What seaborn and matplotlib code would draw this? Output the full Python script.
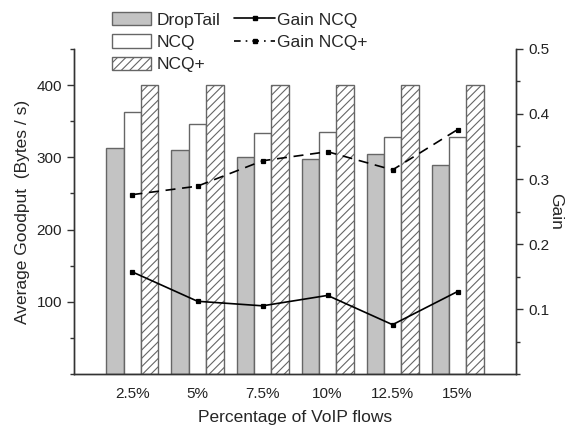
import numpy as np
import pandas as pd
import matplotlib
matplotlib.use("Agg")
import matplotlib.pyplot as plt
from matplotlib.patches import Patch
from matplotlib.lines import Line2D
from matplotlib.ticker import MultipleLocator
import seaborn as sns

# Goodput per queue scheme and relative gains
categories = ["2.5%", "5%", "7.5%", "10%", "12.5%", "15%"]
droptail = [313, 310, 301, 298, 305, 290]
ncq = [363, 346, 334, 335, 328, 328]
ncq_plus = [400, 400, 400, 400, 400, 400]
gain_ncq = [0.157, 0.112, 0.105, 0.121, 0.076, 0.127]
gain_ncq_plus = [0.276, 0.289, 0.328, 0.342, 0.314, 0.376]
schemes = ["DropTail", "NCQ", "NCQ+"]

sns.set_theme(style="ticks")
plt.rcParams["font.family"] = ["Liberation Sans", "DejaVu Sans"]
plt.rcParams["hatch.color"] = "#777777"
plt.rcParams["hatch.linewidth"] = 0.8

bars = pd.DataFrame({
    "pct": categories * 3,
    "scheme": sum([[s] * len(categories) for s in schemes], []),
    "goodput": droptail + ncq + ncq_plus,
})
gains = pd.DataFrame({
    "pct": categories * 2,
    "series": ["Gain NCQ"] * len(categories) + ["Gain NCQ+"] * len(categories),
    "gain": gain_ncq + gain_ncq_plus,
})

fig = plt.figure(figsize=(5.69, 4.33), dpi=100)
ax = fig.add_axes([0.130, 0.136, 0.777, 0.751])

edge = "#666666"
fills = {"DropTail": "#c3c3c3", "NCQ": "white", "NCQ+": "white"}
sns.barplot(data=bars, x="pct", y="goodput", hue="scheme", order=categories,
            hue_order=schemes, palette=fills, edgecolor=edge, linewidth=1.0,
            width=0.8, legend=False, ax=ax, saturation=1)
for patch in ax.containers[2]:
    patch.set_hatch("////")

ax.set_xlim(-0.9, 5.9)
ax.set_ylim(0, 450)
ax.set_yticks([100, 200, 300, 400])
ax.yaxis.set_minor_locator(MultipleLocator(50))
ax.set_xlabel("Percentage of VoIP flows", fontsize=12.5, labelpad=7)
ax.set_ylabel("Average Goodput  (Bytes / s)", fontsize=12.5, labelpad=5)

ax2 = ax.twinx()
sns.pointplot(data=gains[gains.series == "Gain NCQ"], x="pct", y="gain",
              order=categories, color="black", markers="s", markersize=3,
              linestyles="-", linewidth=1.2, ax=ax2, errorbar=None)
sns.pointplot(data=gains[gains.series == "Gain NCQ+"], x="pct", y="gain",
              order=categories, color="black", markers="s", markersize=3,
              linestyles=(0, (6, 4)), linewidth=1.2, ax=ax2, errorbar=None)
ax2.set_xlim(-0.9, 5.9)
ax2.set_ylim(0, 0.5)
ax2.set_yticks([0.1, 0.2, 0.3, 0.4, 0.5])
ax2.yaxis.set_minor_locator(MultipleLocator(0.05))
ax2.set_ylabel("Gain", fontsize=12.5, rotation=270, labelpad=10)

for a in (ax, ax2):
    for s in a.spines.values():
        s.set_color("#333333")
        s.set_linewidth(1.0)
    a.tick_params(axis="both", which="major", direction="out", length=5,
                  width=1.0, color="#333333", labelsize=11, labelcolor="#222222")
    a.tick_params(axis="y", which="minor", direction="out", length=3,
                  width=1.0, color="#333333")
ax.spines["top"].set_visible(False)
ax2.spines["top"].set_visible(False)
ax.tick_params(axis="x", length=0, pad=9)

bar_handles = [
    Patch(facecolor="#c3c3c3", edgecolor=edge, label="DropTail"),
    Patch(facecolor="white", edgecolor=edge, label="NCQ"),
    Patch(facecolor="white", edgecolor=edge, hatch="////", label="NCQ+"),
]
line_handles = [
    Line2D([], [], color="black", lw=1.2, ls="-", marker="s", markersize=3,
           label="Gain NCQ"),
    Line2D([], [], color="black", lw=1.2, ls=(0, (4, 3, 1, 3)), marker="s",
           markersize=3, label="Gain NCQ+"),
]
leg_kw = dict(loc="upper left", frameon=False, fontsize=12.5,
              labelspacing=0.38, handleheight=0.8, borderpad=0,
              borderaxespad=0)
fig.legend(handles=bar_handles, bbox_to_anchor=(0.197, 0.972),
           handlelength=2.25, handletextpad=0.3, **leg_kw)
fig.legend(handles=line_handles, bbox_to_anchor=(0.412, 0.972),
           handlelength=2.35, handletextpad=0.1, **leg_kw)

fig.savefig("out.png", dpi=100)
